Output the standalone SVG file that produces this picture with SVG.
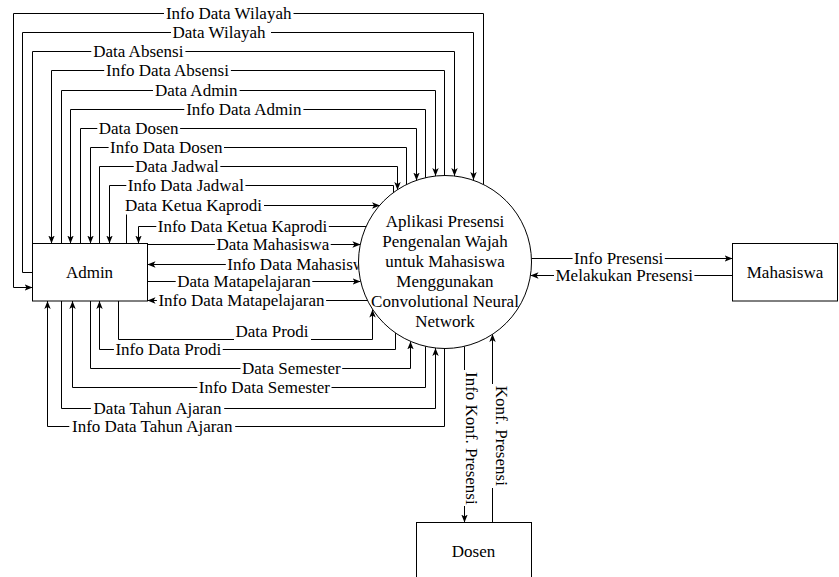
<svg xmlns="http://www.w3.org/2000/svg" width="839" height="577" viewBox="0 0 839 577">
  <style>
    text { font-family: "Liberation Serif", "Times New Roman", serif; font-size: 17px; fill: #000; }
    .lbl, .ctr { text-anchor: middle; }
    .flow { fill: none; stroke: #000; stroke-width: 1; }
    .arr { marker-end: url(#arrow); }
    .node { fill: #fff; stroke: #000; stroke-width: 1; }
    .bg { fill: #fff; stroke: none; }
  </style>
  <defs>
    <marker id="arrow" viewBox="0 0 10 10" refX="10" refY="5" markerWidth="8" markerHeight="8" orient="auto" markerUnits="userSpaceOnUse">
      <path d="M0,1 L10,5 L0,9 L2.5,5 Z" fill="#000"/>
    </marker>
  </defs>

  <g id="connectors">
    <!-- flows running over the top of the Admin box -->
    <path class="flow arr" d="M483.5,184.3 V13.5 H13.5 V287.5 H32.5"/>
    <path class="flow arr" d="M32.5,272.5 H22.5 V32.5 H473.5 V180"/>
    <path class="flow arr" d="M32.5,243.5 V51.5 H454.5 V176"/>
    <path class="flow arr" d="M444.5,175.5 V70.5 H51.5 V243.5"/>
    <path class="flow arr" d="M61.5,243.5 V90.5 H435.5 V176"/>
    <path class="flow arr" d="M425.5,177.8 V109.5 H70.5 V243.5"/>
    <path class="flow arr" d="M80.5,243.5 V128.5 H416.5 V180.5"/>
    <path class="flow arr" d="M406.5,184.8 V147.5 H90.5 V243.5"/>
    <path class="flow arr" d="M99.5,243.5 V166.5 H397.5 V190"/>
    <path class="flow arr" d="M393.5,192.9 V185.5 H109.5 V243.5"/>
    <path class="flow arr" d="M126.5,243.5 V205.5 H380"/>
    <path class="flow arr" d="M366.4,226.5 H138.5 V243.5"/>
    <!-- flows on the right side of the Admin box -->
    <path class="flow arr" d="M147.5,244.5 H360.4"/>
    <path class="flow arr" d="M358.5,264.5 H147.5"/>
    <path class="flow arr" d="M147.5,281.5 H360.6"/>
    <path class="flow arr" d="M367.8,300.5 H147.5"/>
    <!-- flows below the Admin box -->
    <path class="flow arr" d="M118.5,301 V339.5 H372.5 V309.5"/>
    <path class="flow arr" d="M395.5,332.8 V349.5 H99.5 V301"/>
    <path class="flow arr" d="M90.5,301 V368.5 H410.5 V341.4"/>
    <path class="flow arr" d="M425.5,346.3 V387.5 H72.5 V301"/>
    <path class="flow arr" d="M61.5,301 V408.5 H435.5 V348"/>
    <path class="flow arr" d="M444.5,348.5 V426.5 H47.5 V301"/>
    <!-- Mahasiswa flows -->
    <path class="flow arr" d="M531.4,258.5 H732.5"/>
    <path class="flow arr" d="M732.5,275.5 H530.5"/>
    <!-- Dosen flows -->
    <path class="flow arr" d="M464.5,346.4 V522.5"/>
    <path class="flow arr" d="M492.5,522.5 V334"/>

    <!-- label backgrounds -->
    <rect class="bg" x="164" y="4.5" width="129.5" height="18"/>
    <rect class="bg" x="171" y="23.5" width="100" height="18"/>
    <rect class="bg" x="91.3" y="42.5" width="94.1" height="18"/>
    <rect class="bg" x="104.2" y="61.5" width="126.7" height="18"/>
    <rect class="bg" x="153" y="81.5" width="86.6" height="18"/>
    <rect class="bg" x="184.3" y="100.5" width="119.1" height="18"/>
    <rect class="bg" x="97.3" y="119.5" width="82.8" height="18"/>
    <rect class="bg" x="108.6" y="138.5" width="115.4" height="18"/>
    <rect class="bg" x="133.7" y="157.5" width="86.6" height="18"/>
    <rect class="bg" x="126.3" y="176.5" width="119.1" height="18"/>
    <rect class="bg" x="122" y="196" width="142" height="18.5"/>
    <rect class="bg" x="156.3" y="217.5" width="172.5" height="18"/>
    <rect class="bg" x="214.9" y="235.5" width="115.8" height="18"/>
    <rect class="bg" x="225.8" y="255.5" width="148.4" height="18"/>
    <rect class="bg" x="175.7" y="272.5" width="136.6" height="18"/>
    <rect class="bg" x="156.9" y="291.5" width="169.2" height="18"/>
    <rect class="bg" x="234" y="322" width="77" height="20"/>
    <rect class="bg" x="113.9" y="340.5" width="108.8" height="18"/>
    <rect class="bg" x="240.5" y="359.5" width="101.7" height="18"/>
    <rect class="bg" x="197.3" y="378.5" width="134.2" height="18"/>
    <rect class="bg" x="90.9" y="399.5" width="133.3" height="18"/>
    <rect class="bg" x="69.3" y="417.5" width="165.9" height="18"/>
    <rect class="bg" x="572.6" y="250.5" width="92.2" height="16"/>
    <rect class="bg" x="554" y="267.5" width="140.4" height="16"/>
    <rect class="bg" x="460" y="370" width="20" height="136"/>
    <rect class="bg" x="489" y="384" width="22" height="104"/>

    <!-- labels -->
    <text class="lbl" x="228.7" y="19">Info Data Wilayah</text>
    <text class="lbl" x="219" y="38">Data Wilayah</text>
    <text class="lbl" x="138.3" y="57">Data Absensi</text>
    <text class="lbl" x="167.5" y="76">Info Data Absensi</text>
    <text class="lbl" x="196.3" y="95.5">Data Admin</text>
    <text class="lbl" x="243.8" y="114.5">Info Data Admin</text>
    <text class="lbl" x="138.7" y="133.5">Data Dosen</text>
    <text class="lbl" x="166.3" y="152.5">Info Data Dosen</text>
    <text class="lbl" x="177" y="171.5">Data Jadwal</text>
    <text class="lbl" x="185.8" y="190.5">Info Data Jadwal</text>
    <text class="lbl" x="193.5" y="210.5">Data Ketua Kaprodi</text>
    <text class="lbl" x="242.5" y="231.5">Info Data Ketua Kaprodi</text>
    <text class="lbl" x="272.8" y="249.5">Data Mahasiswa</text>
    <text class="lbl" x="300" y="269.5">Info Data Mahasiswa</text>
    <text class="lbl" x="244" y="286.5">Data Matapelajaran</text>
    <text class="lbl" x="241.5" y="306">Info Data Matapelajaran</text>
    <text class="lbl" x="272" y="336.5">Data Prodi</text>
    <text class="lbl" x="168.3" y="354.5">Info Data Prodi</text>
    <text class="lbl" x="291.3" y="373.5">Data Semester</text>
    <text class="lbl" x="264.4" y="392.5">Info Data Semester</text>
    <text class="lbl" x="157.5" y="413.5">Data Tahun Ajaran</text>
    <text class="lbl" x="152.2" y="431.5">Info Data Tahun Ajaran</text>
    <text class="lbl" x="618.7" y="264">Info Presensi</text>
    <text class="lbl" x="624.2" y="281">Melakukan Presensi</text>
    <text class="ctr" transform="translate(466,438.3) rotate(90)">Info Konf. Presensi</text>
    <text class="ctr" transform="translate(495.5,435.8) rotate(90)">Konf. Presensi</text>
  </g>

  <g id="admin">
    <rect class="node" x="32.5" y="243.5" width="115" height="57.5"/>
    <text class="ctr" x="89.5" y="277.5">Admin</text>
  </g>

  <g id="sistem">
    <circle class="node" cx="445" cy="262" r="86.5"/>
    <text class="ctr" x="445" y="227">Aplikasi Presensi</text>
    <text class="ctr" x="445" y="247">Pengenalan Wajah</text>
    <text class="ctr" x="445" y="267">untuk Mahasiswa</text>
    <text class="ctr" x="445" y="287">Menggunakan</text>
    <text class="ctr" x="445" y="307">Convolutional Neural</text>
    <text class="ctr" x="445" y="327">Network</text>
  </g>

  <g id="mahasiswa">
    <rect class="node" x="732.5" y="243.5" width="105" height="57.5"/>
    <text class="ctr" x="785" y="278">Mahasiswa</text>
  </g>

  <g id="dosen">
    <rect class="node" x="416.5" y="522.5" width="115" height="57.5"/>
    <text class="ctr" x="473.5" y="556.5">Dosen</text>
  </g>
</svg>
